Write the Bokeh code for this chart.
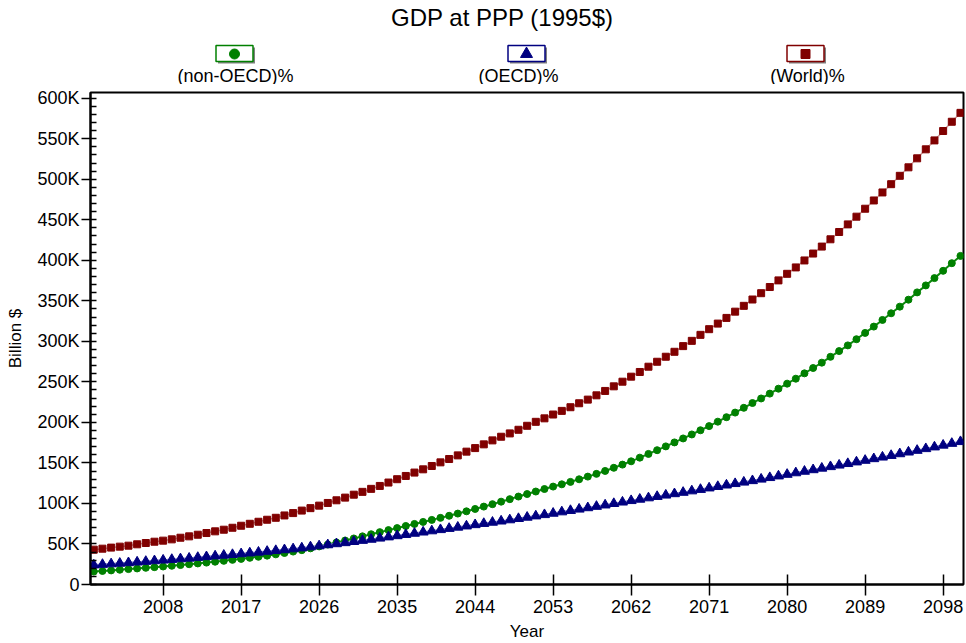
from bokeh.plotting import figure
from bokeh.models import (Range1d, FixedTicker, SingleIntervalTicker, CustomJSTickFormatter,
                          BoxAnnotation, ColumnDataSource)
from bokeh.layouts import column
from bokeh.core.properties import value
from bokeh.embed import file_html
from bokeh.resources import INLINE

# ---------------- data (values in thousand billion $, i.e. "K") ----------------
years = list(range(2000, 2101))

non_oecd_k = [
    16.0, 16.7, 17.4, 18.2, 19.0, 19.8, 20.6, 21.4, 22.2, 23.1,
    24.0, 25.0, 26.0, 27.0, 28.1, 29.2, 30.4, 31.6, 32.9, 34.2,
    35.6, 37.2, 38.9, 40.6, 42.4, 44.6, 47.0, 49.3, 51.8, 54.3,
    56.8, 59.4, 62.0, 64.6, 67.1, 69.6, 72.2, 74.7, 77.2, 79.7,
    82.2, 84.8, 87.5, 90.3, 93.2, 96.1, 99.1, 102.2, 105.3, 108.5,
    111.6, 114.7, 117.8, 120.8, 123.6, 126.6, 129.8, 133.1, 136.5, 140.1,
    144.0, 147.9, 152.0, 156.5, 161.1, 165.7, 170.4, 175.3, 180.2, 185.1,
    190.3, 195.4, 200.9, 206.4, 212.1, 218.0, 223.9, 229.5, 235.5, 241.6,
    247.8, 253.9, 260.5, 267.1, 273.7, 280.9, 288.0, 295.0, 302.6, 310.4,
    318.2, 326.4, 334.6, 342.8, 351.4, 360.4, 369.0, 378.0, 387.0, 396.4,
    405.4,
]

oecd_k = [
    24.0, 24.7, 25.4, 26.1, 26.8, 27.6, 28.4, 29.2, 30.0, 30.8,
    31.6, 32.4, 33.3, 34.2, 35.1, 36.0, 36.9, 37.8, 38.8, 39.8,
    40.8, 41.8, 42.8, 43.9, 45.0, 46.3, 47.6, 48.9, 50.2, 51.5,
    52.9, 54.3, 55.7, 57.1, 58.6, 60.1, 61.6, 63.1, 64.6, 66.1,
    67.6, 69.1, 70.6, 72.1, 73.7, 75.2, 76.7, 78.2, 79.7, 81.3,
    82.9, 84.5, 86.1, 87.8, 89.5, 91.2, 92.9, 94.6, 96.3, 98.0,
    99.8, 101.6, 103.4, 105.1, 106.8, 108.5, 110.2, 111.9, 113.6, 115.4,
    117.2, 119.0, 120.8, 122.6, 124.4, 126.2, 128.0, 129.9, 131.8, 133.8,
    135.8, 137.7, 139.6, 141.5, 143.4, 145.3, 147.2, 149.1, 151.1, 153.1,
    155.1, 157.1, 159.1, 161.2, 163.3, 165.4, 167.5, 169.6, 171.8, 174.0,
    176.2,
]

world_k = [
    43.0, 44.2, 45.5, 46.7, 47.9, 49.6, 51.2, 52.8, 54.1, 55.7,
    57.7, 59.4, 61.4, 63.5, 65.6, 67.6, 70.0, 72.5, 74.9, 77.4,
    79.9, 82.3, 85.2, 88.1, 91.2, 94.2, 97.3, 100.6, 103.9, 107.2,
    110.8, 114.3, 118.0, 121.6, 125.8, 129.9, 133.9, 138.1, 142.1, 146.2,
    150.7, 154.8, 159.3, 163.9, 168.3, 172.9, 177.8, 182.3, 186.4, 190.9,
    195.8, 200.7, 205.0, 209.7, 214.2, 218.7, 223.6, 228.1, 233.4, 238.8,
    244.5, 250.2, 256.4, 262.2, 268.7, 274.8, 281.0, 287.1, 294.1, 300.6,
    308.0, 315.0, 321.9, 328.9, 336.6, 343.8, 351.6, 359.4, 367.0, 375.2,
    383.3, 391.2, 399.8, 408.3, 416.9, 425.9, 434.9, 444.3, 453.8, 463.6,
    473.8, 483.7, 493.9, 504.2, 514.7, 525.8, 536.9, 547.9, 559.5, 570.9,
    581.9,
]

x_tick_years = [2008, 2017, 2026, 2035, 2044, 2053, 2062, 2071, 2080, 2089, 2098]
series_labels = ["(non-OECD)%", "(OECD)%", "(World)%"]
title_text = "GDP at PPP (1995$)"
x_label = "Year"
y_label = "Billion $"

# ---------------- styling / layout ----------------
FONT = "Liberation Sans"
GREEN, NAVY, MAROON = "#008000", "#000080", "#800000"
GREEN_LINE, NAVY_LINE, MAROON_LINE = "#108a10", "#7878c8", "#cc9090"
SHADOW = "#808080"

W = 966
HEAD_H = 84
MAIN_H = 643 - HEAD_H
FRAME_L, FRAME_R = 90, 963          # page pixel columns of the plot frame

# ---------------- header: title + legend (x in page pixels) ----------------
h = figure(width=W, height=HEAD_H, output_backend="svg", toolbar_location=None,
           x_range=Range1d(FRAME_L, FRAME_R), y_range=Range1d(HEAD_H, 0),
           x_axis_type=None, y_axis_type=None,
           min_border_left=FRAME_L, min_border_right=W - FRAME_R,
           min_border_top=0, min_border_bottom=0)
h.outline_line_color = None
h.background_fill_color = "white"
h.border_fill_color = "white"

h.text(x=[502], y=[17], text=[title_text], text_align="center", text_baseline="middle",
       text_font=value(FONT), text_font_size="24px", text_color="black")

box_x = [234, 526, 805]
label_x = [235, 518, 807]
box_y = 53
colors = [GREEN, NAVY, MAROON]
markers = ["circle", "triangle", "square"]
msizes = [10, 12, 9]
h.rect(x=[bx + 2 for bx in box_x], y=[box_y + 2] * 3, width=37, height=16,
       fill_color=SHADOW, line_color=None)
h.rect(x=box_x, y=[box_y] * 3, width=37, height=16, fill_color="white",
       line_color=colors, line_width=1.5)
h.scatter(x=box_x, y=[box_y + 0.5] * 3, marker=markers, size=msizes,
          fill_color=colors, line_color=colors)
h.text(x=label_x, y=[75] * 3, text=series_labels, text_align="center",
       text_baseline="middle", text_font=value(FONT), text_font_size="18px",
       text_color="black")

# ---------------- main chart ----------------
src = ColumnDataSource(dict(
    year=years,
    non=[v * 1000 for v in non_oecd_k],
    oecd=[v * 1000 for v in oecd_k],
    world=[v * 1000 for v in world_k],
))

p = figure(width=W, height=MAIN_H, output_backend="svg", toolbar_location=None,
           x_range=Range1d(1999.62, 2100.35), y_range=Range1d(0, 607000),
           min_border_left=FRAME_L, min_border_right=W - FRAME_R,
           min_border_top=8, min_border_bottom=57)
p.background_fill_color = "white"
p.border_fill_color = "white"
p.outline_line_color = "black"
p.outline_line_width = 2
p.xgrid.visible = False
p.ygrid.visible = False

p.line("year", "non", source=src, line_color=GREEN_LINE, line_width=2)
p.scatter("year", "non", source=src, marker="circle", size=7,
          fill_color=GREEN, line_color=GREEN)
p.line("year", "oecd", source=src, line_color=NAVY_LINE, line_width=2)
p.scatter("year", "oecd", source=src, marker="triangle", size=10,
          fill_color=NAVY, line_color=NAVY)
p.line("year", "world", source=src, line_color=MAROON_LINE, line_width=1.5)
p.scatter("year", "world", source=src, marker="square", size=7,
          fill_color=MAROON, line_color=MAROON)

xa = p.xaxis[0]
xa.ticker = FixedTicker(ticks=x_tick_years)
xa.axis_label = x_label
xa.axis_line_width = 2
xa.axis_line_color = "black"
xa.major_tick_in = 10
xa.major_tick_out = 11
xa.major_tick_line_width = 1.5
xa.minor_tick_line_color = None
xa.major_label_standoff = 4
xa.axis_label_standoff = 6
xa.major_label_text_font = FONT
xa.major_label_text_font_size = "18px"
xa.major_label_text_color = "black"
xa.axis_label_text_font = FONT
xa.axis_label_text_font_size = "17px"
xa.axis_label_text_font_style = "normal"
xa.axis_label_text_color = "black"

ya = p.yaxis[0]
ya.ticker = SingleIntervalTicker(interval=50000, num_minor_ticks=5)
ya.formatter = CustomJSTickFormatter(code="return tick == 0 ? '0' : (tick/1000).toFixed(0) + 'K';")
ya.axis_label = y_label
ya.axis_line_width = 2
ya.axis_line_color = "black"
ya.major_tick_in = 0
ya.major_tick_out = 9
ya.major_tick_line_width = 1.5
ya.minor_tick_in = 6
ya.minor_tick_out = 0
ya.minor_tick_line_width = 1.5
ya.minor_tick_line_color = "black"
ya.major_label_standoff = 2
ya.axis_label_standoff = 9
ya.major_label_text_font = FONT
ya.major_label_text_font_size = "18px"
ya.major_label_text_color = "black"
ya.axis_label_text_font = FONT
ya.axis_label_text_font_size = "17px"
ya.axis_label_text_font_style = "normal"
ya.axis_label_text_color = "black"

# drop shadow of the plot frame (bottom and right), canvas pixel units
for (l, r, t, b) in [(95, W, 503, 508), (964, W, 13, 508)]:
    p.add_layout(BoxAnnotation(left=l, right=r, top=t, bottom=b,
                               left_units="canvas", right_units="canvas",
                               top_units="canvas", bottom_units="canvas",
                               fill_color=SHADOW, fill_alpha=1.0,
                               line_color=None))

layout = column(h, p, spacing=0)
open("out.html", "w").write(file_html(layout, INLINE))
